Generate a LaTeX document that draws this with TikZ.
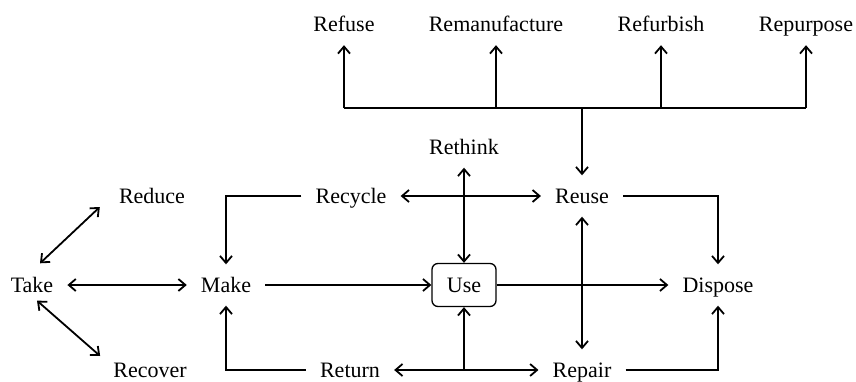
\documentclass[tikz,border=0pt]{standalone}
\usepackage{fontspec}
\setmainfont{Liberation Serif}
\usetikzlibrary{arrows.meta}
\begin{document}
\begin{tikzpicture}[x=1pt,y=1pt,
  lbl/.style={inner xsep=14pt, inner ysep=13pt, text height=15pt, text depth=0pt, font=\fontsize{22}{26}\selectfont},
  usebox/.style={lbl, draw, line width=1.3pt, rounded corners=6pt, minimum width=64pt, minimum height=43pt, inner xsep=0pt, inner ysep=0pt},
  link/.style={line width=1.8pt, -{Straight Barb[length=7pt,width=12pt]}},
  dlink/.style={line width=1.8pt, {Straight Barb[length=7pt,width=12pt]}-{Straight Barb[length=7pt,width=12pt]}},
  plain/.style={line width=1.8pt}]
\useasboundingbox (0,0) rectangle (856,381);
% top row
\node[lbl] (Refuse) at (344,356.5) {Refuse};
\node[lbl] (Reman) at (496,356.5) {Remanufacture};
\node[lbl] (Refurb) at (661,356.5) {Refurbish};
\node[lbl] (Repurp) at (806,356.5) {Repurpose};
% middle
\node[lbl] (Rethink) at (464,234) {Rethink};
\node[lbl] (Reduce) at (152,185) {Reduce};
\node[lbl] (Recycle) at (351,185) {Recycle};
\node[lbl] (Reuse) at (582,185) {Reuse};
\node[lbl] (Take) at (32,96) {Take};
\node[lbl] (Make) at (226,96) {Make};
\node[usebox] (Use) at (464,96) {Use};
\node[lbl] (Dispose) at (718,96) {Dispose};
\node[lbl] (Recover) at (150,11) {Recover};
\node[lbl] (Return) at (350,11) {Return};
\node[lbl] (Repair) at (582,11) {Repair};
% top tree
\coordinate (bar) at (582,273);
\draw[plain] (Refuse |- bar) -- (Repurp |- bar);
\draw[link] (Reuse.north |- bar) -- (Reuse.north);
\draw[link] (Refuse |- bar) -- (Refuse.south);
\draw[link] (Reman |- bar) -- (Reman.south);
\draw[link] (Refurb |- bar) -- (Refurb.south);
\draw[link] (Repurp |- bar) -- (Repurp.south);
% take connections
\draw[dlink] ([shift={(8pt,1pt)}]Take.north) -- ([shift={(-5pt,-11pt)}]Reduce.west);
\draw[dlink] ([shift={(5pt,5pt)}]Take.south) -- ([shift={(1pt,14pt)}]Recover.west);
\draw[dlink] (Take.east) -- (Make.west);
% loops
\draw[link] (Recycle.west) -| (Make.north);
\draw[link] (Return.west) -| (Make.south);
\draw[dlink] (Recycle.east) -- (Reuse.west);
\draw[dlink] (Return.east) -- (Repair.west);
\draw[dlink] (Rethink.south) -- (Use.north);
\draw[link] (Make.east) -- (Use.west);
\draw[link] (Use.east) -- (Dispose.west);
\draw[dlink] (Reuse.south) -- (Repair.north);
\draw[link] (Reuse.east) -| (Dispose.north);
\draw[link] (Repair.east) -| (Dispose.south);
\coordinate (j) at (Use.south |- Repair.west);
\draw[link] (j) -- (Use.south);
\end{tikzpicture}
\end{document}
